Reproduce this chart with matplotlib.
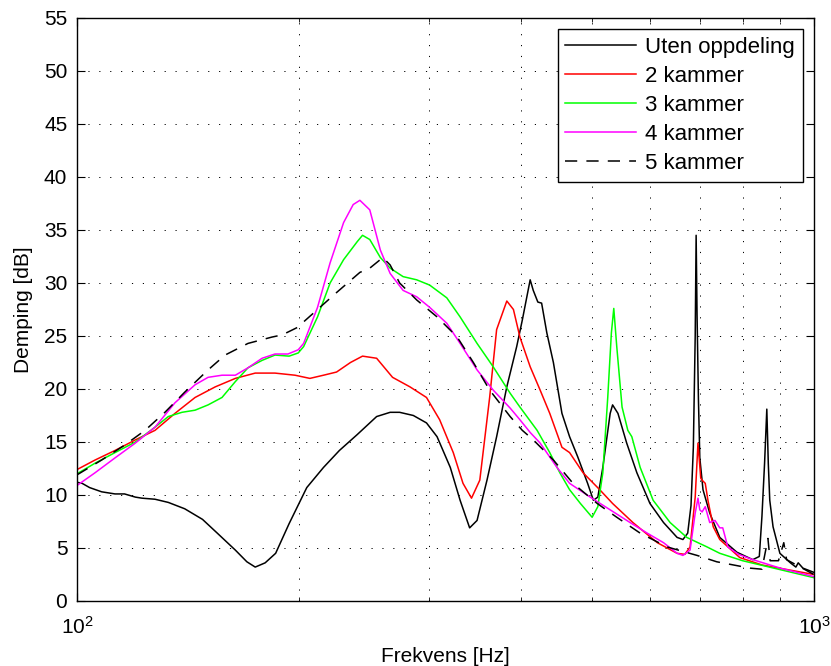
import numpy as np
import matplotlib.pyplot as plt
from matplotlib.ticker import FixedLocator, NullFormatter

plt.rcParams['font.family'] = ['Liberation Sans', 'DejaVu Sans']
plt.rcParams['mathtext.fontset'] = 'custom'
plt.rcParams['mathtext.rm'] = 'Liberation Sans'
plt.rcParams['mathtext.default'] = 'regular'

# Uten oppdeling
f_0 = [100, 101.6, 104, 108, 112.6, 116, 120, 122.5, 127.6, 133, 140, 148, 155, 164, 170, 174.5,
       180, 186, 194, 205, 216, 227, 240, 255, 266, 274, 286, 298, 308, 321, 331, 341,
       349, 360, 371, 383, 395, 402, 412, 416, 422, 427, 434, 443, 455, 466, 478, 493,
       502, 509, 517, 529, 533, 542, 557, 575, 599, 625, 652, 664, 674, 681, 686, 690,
       692, 694, 697, 700, 707, 722, 745, 786, 826, 843, 850, 857, 863, 867, 871, 880,
       899, 929, 945, 952, 966, 1000]
d_0 = [11.2, 11.1, 10.7, 10.3, 10.1, 10.1, 9.8, 9.7, 9.6, 9.3, 8.7, 7.7, 6.4, 4.8, 3.7, 3.2,
       3.6, 4.5, 7.3, 10.7, 12.6, 14.2, 15.7, 17.4, 17.8, 17.8, 17.5, 16.8, 15.5, 12.6, 9.5, 6.9,
       7.6, 11.4, 15.5, 20.2, 24.0, 26.5, 30.3, 29.3, 28.2, 28.1, 25.3, 22.5, 17.7, 15.5, 13.6, 11.1,
       9.5, 9.8, 12.6, 17.7, 18.5, 17.7, 14.9, 12.1, 9.2, 7.4, 6.0, 5.8, 6.4, 9.0, 14.5, 25.0,
       34.5, 27.0, 19.0, 13.5, 10.5, 8.3, 6.0, 4.6, 3.9, 4.2, 8.0, 13.0, 18.1, 13.0, 9.5, 7.0,
       4.5, 3.6, 3.2, 3.6, 3.1, 2.7]

# 2 kammer
f_2 = [100, 105.8, 112.6, 120, 127.6, 135.8, 144.6, 154, 164, 174.5, 185.6, 197.6, 207, 216, 225, 235,
       244, 255, 268, 283, 298, 310.5, 324, 334, 343, 352, 363, 371, 383, 391, 399, 412,
       425, 438, 455, 466, 486, 512, 533, 568, 613, 652, 668, 679, 690, 696, 702, 705,
       712, 718, 730, 745, 793, 850, 1000]
d_2 = [12.4, 13.3, 14.2, 15.2, 16.1, 17.7, 19.2, 20.2, 21.0, 21.5, 21.5, 21.3, 21.0, 21.3, 21.6, 22.5,
       23.1, 22.9, 21.1, 20.2, 19.2, 17.1, 14.0, 11.1, 9.7, 11.4, 19.2, 25.6, 28.3, 27.5, 24.9, 22.1,
       19.9, 17.7, 14.5, 14.0, 12.1, 10.5, 9.2, 7.4, 5.5, 4.5, 4.4, 5.1, 9.8, 14.9, 11.6, 11.4,
       11.1, 9.5, 7.0, 5.8, 4.1, 3.4, 2.5]

# 3 kammer
f_3 = [100, 105.8, 112.6, 120, 127.6, 133, 138.8, 144.6, 150.6, 157.3, 164, 170.6, 178.3, 185.6, 194, 199.6,
       203, 212, 220.5, 230, 240, 244, 249.6, 258, 266, 277, 289, 301, 317.5, 331, 349, 367,
       387, 399, 421, 438, 452, 466, 482, 500, 509, 517, 525, 531, 535, 540, 549, 559,
       566, 581, 605, 638, 672, 716, 745, 800, 870, 1000]
d_3 = [12.0, 13.0, 14.0, 15.0, 16.4, 17.4, 17.8, 18.0, 18.5, 19.2, 20.7, 22.0, 22.7, 23.2, 23.1, 23.4,
       24.0, 26.8, 30.0, 32.2, 33.9, 34.5, 34.1, 32.4, 31.4, 30.6, 30.3, 29.8, 28.6, 26.8, 24.3, 22.1,
       19.6, 18.3, 16.1, 14.0, 12.1, 10.5, 9.2, 7.9, 8.9, 12.1, 19.2, 25.3, 27.6, 24.0, 18.3, 16.1,
       15.5, 12.6, 9.5, 7.4, 6.0, 5.1, 4.5, 3.8, 3.2, 2.2]

# 4 kammer
f_4 = [100, 105.8, 112.6, 120, 127.6, 135.8, 144.6, 150.6, 157.3, 164, 170.6, 178.3, 185.6, 193.3, 199.6, 203,
       212, 220.5, 230, 237, 242, 249.6, 258, 266, 277, 289, 301, 317.5, 331, 349, 367, 387,
       399, 412, 425, 448, 466, 497, 529, 563, 594, 625, 652, 664, 679, 690, 696, 700,
       705, 712, 722, 734, 745, 752, 764, 790, 826, 900, 1000]
d_4 = [10.9, 12.1, 13.5, 14.9, 16.4, 18.7, 20.4, 21.1, 21.3, 21.3, 22.0, 22.9, 23.3, 23.3, 23.7, 24.3,
       27.7, 31.9, 35.7, 37.4, 37.8, 36.9, 33.1, 30.9, 29.3, 28.7, 27.7, 26.2, 24.3, 21.8, 19.9, 18.2,
       17.1, 15.9, 14.9, 12.6, 11.1, 9.8, 8.6, 7.4, 6.4, 5.5, 4.5, 4.3, 4.8, 8.3, 9.7, 8.6,
       8.4, 8.9, 7.4, 7.6, 6.9, 6.9, 5.1, 4.4, 3.9, 3.1, 2.3]

# 5 kammer
f_5 = [100, 108, 116, 123.7, 131.6, 140, 150.6, 158.8, 170.6, 183.9, 189.8, 199, 212, 225, 242, 249.6,
       260, 266, 274, 289, 308, 328, 345, 363, 387, 402, 416, 443, 471, 508, 540, 581,
       632, 694, 738, 819, 850, 860, 866, 872, 895, 910, 918, 1000]
d_5 = [11.9, 13.3, 14.7, 16.1, 17.8, 19.7, 21.8, 23.2, 24.3, 24.9, 25.1, 25.8, 27.5, 29.1, 31.0, 31.4,
       32.4, 31.7, 30.0, 28.4, 26.8, 24.9, 22.5, 19.9, 17.4, 16.1, 15.2, 13.3, 11.1, 9.2, 7.9, 6.4,
       5.1, 4.3, 3.7, 3.1, 3.0, 4.8, 5.9, 3.8, 3.8, 5.5, 3.9, 2.5]

labels = ['Uten oppdeling', '2 kammer', '3 kammer', '4 kammer', '5 kammer']

fig = plt.figure(figsize=(8.31, 6.66), dpi=100)
ax = fig.add_axes([0.0927, 0.0976, 0.8868, 0.8754])

lw = 1.1
ax.plot(f_0, d_0, color='k', lw=lw, label=labels[0])
ax.plot(f_2, d_2, color='#ff0000', lw=lw, label=labels[1])
ax.plot(f_3, d_3, color='#00ff00', lw=lw, label=labels[2])
ax.plot(f_4, d_4, color='#ff00ff', lw=lw, label=labels[3])
ax.plot(f_5, d_5, color='k', lw=lw, dashes=(8, 6), label=labels[4])

ax.set_xscale('log')
ax.set_xlim(100, 1000)
ax.set_ylim(0, 55)
ax.set_yticks(np.arange(0, 56, 5))
ax.xaxis.set_minor_locator(FixedLocator(np.arange(200, 1000, 100)))
ax.xaxis.set_minor_formatter(NullFormatter())

grid_style = dict(linestyle=(0, (1.2, 10)), color='k', lw=0.7)
ax.grid(True, which='both', axis='x', **grid_style)
ax.grid(True, which='major', axis='y', **grid_style)

ax.tick_params(which='both', direction='in', top=True, right=True, labelsize=15)
ax.tick_params(which='major', length=6)
ax.tick_params(which='minor', length=3)
ax.tick_params(axis='x', which='major', pad=11)
ax.tick_params(axis='y', which='major', pad=7)
for s in ax.spines.values():
    s.set_linewidth(1.0)

ax.set_xlabel('Frekvens [Hz]', fontsize=15, labelpad=6)
ax.set_ylabel('Demping [dB]', fontsize=15, labelpad=8)

leg = ax.legend(loc='upper right', fontsize=16, fancybox=False, framealpha=1,
                edgecolor='k', handlelength=3.2, borderaxespad=0.5,
                labelspacing=0.36, handletextpad=0.4, borderpad=0.35)
leg.get_frame().set_linewidth(1.0)

fig.savefig('out.png', dpi=100)
